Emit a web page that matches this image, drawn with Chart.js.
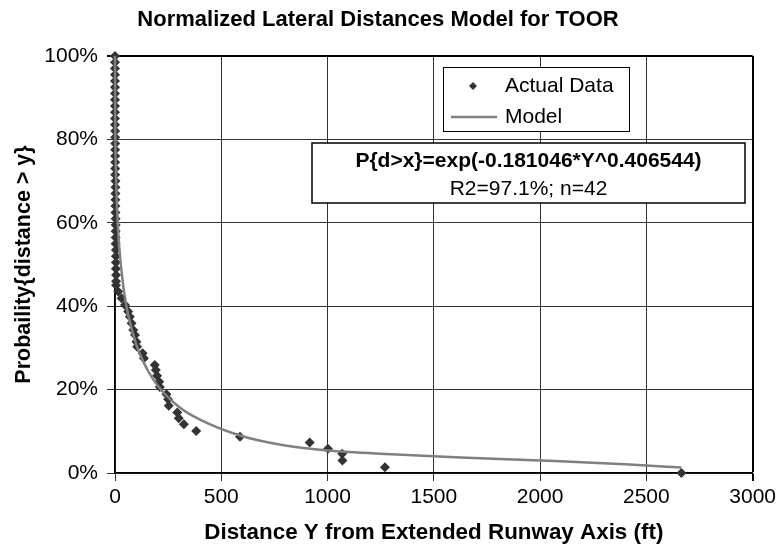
<!DOCTYPE html>
<html>
<head>
<meta charset="utf-8">
<script src="https://cdn.jsdelivr.net/npm/chart.js@4/dist/chart.umd.min.js"></script>
<style>
  body { margin: 0; background: #fff; }
  canvas { display: block; }
</style>
</head>
<body>
<canvas id="toorChart" width="780" height="546"></canvas>
<script>
// ----------------------
//  DATA
// ----------------------
const actualX = [0, 0, 0, 0, 0, 0, 0, 0, 0, 0, 0, 0, 1, 1, 1, 1, 1, 1, 1, 1,
    2, 2, 2, 2, 2, 2, 3, 3, 3, 3, 3, 4, 4, 4, 4, 5, 5, 5,
    15, 31, 47, 62, 70, 78, 86, 94, 101, 104, 130, 136, 187, 192, 198, 208, 211,
    242, 250, 253, 293, 300, 324, 382, 588, 916, 1002, 1069, 1070, 1270, 2665];
const actualY = [100, 98.5, 97, 95.5, 94, 92.5, 91, 89.5, 88, 86.5, 85, 83.5, 82, 80.5,
    79, 77.5, 76, 74.5, 73, 71.5, 70, 68.5, 67, 65.5, 64, 62.5, 61, 59.5, 58, 56.5,
    55, 53.5, 52, 50.5, 49, 47.5, 46, 45,
    43.5, 41.9, 40.3, 38.7, 37.5, 35.9, 34.3, 33.1, 31.5, 30.3, 28.7, 27.5, 25.9,
    24.7, 23.3, 21.9, 20.6, 18.9, 17.7, 16.1, 14.5, 13.1, 11.7, 10.1, 8.7, 7.3,
    5.8, 4.6, 3.0, 1.4, 0];

const modelX = [0, 1, 3, 5, 10, 20, 40, 60, 100, 150, 200, 300, 400, 600, 800,
    1000, 1300, 1600, 2000, 2400, 2665];
const modelY = [100, 83.4, 75.4, 70.6, 63.0, 54.2, 44.4, 38.4, 30.8, 25.0, 21.0,
    15.9, 12.8, 8.8, 6.6, 5.4, 4.5, 3.8, 3.0, 2.1, 1.3];

const xTicks = [0, 500, 1000, 1500, 2000, 2500, 3000];
const yTicks = [0, 20, 40, 60, 80, 100];

const titleText = 'Normalized Lateral Distances Model for TOOR';
const xTitle = 'Distance Y from Extended Runway Axis (ft)';
const yTitle = 'Probaility{distance > y}';
const legendLabels = ['Actual Data', 'Model'];
const equationLines = ['P{d>x}=exp(-0.181046*Y^0.406544)', 'R2=97.1%; n=42'];

const FONT = "'Liberation Sans', Arial, Helvetica, sans-serif";
const pointColor = '#333333';
const lineColor = '#808080';

// ----------------------
//  BOXES (legend + equation) drawn inside the plot
// ----------------------
const boxesPlugin = {
    id: 'boxes',
    afterDraw(chart) {
        const c = chart.ctx;
        c.save();
        // legend
        c.fillStyle = '#fff';
        c.fillRect(443, 67, 186, 64);
        c.strokeStyle = '#000';
        c.lineWidth = 1;
        c.strokeRect(443.5, 67.5, 186, 64);

        c.fillStyle = pointColor;
        c.beginPath();
        c.moveTo(473, 82);
        c.lineTo(477, 86);
        c.lineTo(473, 90);
        c.lineTo(469, 86);
        c.closePath();
        c.fill();

        c.strokeStyle = lineColor;
        c.lineWidth = 2.5;
        c.beginPath();
        c.moveTo(451, 117);
        c.lineTo(497, 117);
        c.stroke();

        c.fillStyle = '#000';
        c.font = '21px ' + FONT;
        c.textAlign = 'left';
        c.textBaseline = 'middle';
        c.fillText(legendLabels[0], 505, 86);
        c.fillText(legendLabels[1], 505, 117);

        // equation box
        c.fillStyle = '#fff';
        c.fillRect(312, 143, 433, 60);
        c.strokeStyle = '#000';
        c.lineWidth = 1.5;
        c.strokeRect(312, 143, 433, 60);

        c.fillStyle = '#000';
        c.textAlign = 'center';
        c.font = 'bold 21px ' + FONT;
        c.fillText(equationLines[0], 528.5, 161);
        c.font = '21px ' + FONT;
        c.fillText(equationLines[1], 528.5, 189);
        c.restore();
    }
};

// ----------------------
//  CHART
// ----------------------
const actualData = actualX.map((x, i) => ({ x: x, y: actualY[i] }));
const modelData = modelX.map((x, i) => ({ x: x, y: modelY[i] }));

const ctx = document.getElementById('toorChart').getContext('2d');
Chart.defaults.font.family = FONT;
Chart.defaults.color = '#000';

new Chart(ctx, {
    type: 'scatter',
    data: {
        datasets: [{
            label: legendLabels[1],
            type: 'line',
            data: modelData,
            borderColor: lineColor,
            borderWidth: 2.5,
            pointRadius: 0,
            fill: false,
            cubicInterpolationMode: 'monotone',
            order: 0,
            clip: false
        }, {
            label: legendLabels[0],
            data: actualData,
            pointStyle: 'rectRot',
            pointRadius: 5,
            backgroundColor: pointColor,
            borderColor: pointColor,
            borderWidth: 0,
            order: 1,
            clip: false
        }]
    },
    options: {
        responsive: false,
        animation: false,
        layout: { padding: { right: 24 } },
        plugins: {
            legend: { display: false },
            tooltip: { enabled: false },
            title: {
                display: true,
                text: titleText,
                color: '#000',
                font: { size: 22, weight: 'bold' },
                padding: { top: 7, bottom: 22.6 }
            }
        },
        scales: {
            x: {
                type: 'linear',
                min: 0,
                max: 3000,
                afterBuildTicks: (s) => { s.ticks = xTicks.map(v => ({ value: v })); },
                afterFit: (s) => { s.height = 73; },
                ticks: {
                    font: { size: 21 },
                    color: '#000',
                    padding: 4,
                    maxRotation: 0,
                    callback: (v) => String(v)
                },
                grid: {
                    color: (c) => c.tick && c.tick.value === 3000 ? '#000' : '#333',
                    lineWidth: (c) => c.tick && c.tick.value === 3000 ? 2 : 1,
                    tickLength: 8
                },
                border: { color: '#000', width: 1.5 },
                title: {
                    display: true,
                    text: xTitle,
                    color: '#000',
                    font: { size: 22.4, weight: 'bold' },
                    padding: { top: 4, bottom: 0 }
                }
            },
            y: {
                min: 0,
                max: 100,
                afterBuildTicks: (s) => { s.ticks = yTicks.map(v => ({ value: v })); },
                afterFit: (s) => { s.width = 115; },
                ticks: {
                    font: { size: 21 },
                    color: '#000',
                    padding: 9,
                    callback: (v) => v + '%'
                },
                grid: {
                    color: (c) => c.tick && c.tick.value === 100 ? '#000' : '#333',
                    lineWidth: (c) => c.tick && c.tick.value === 100 ? 2 : 1,
                    tickLength: 8
                },
                border: { color: '#000', width: 1.5 },
                title: {
                    display: true,
                    text: yTitle,
                    color: '#000',
                    font: { size: 21.5, weight: 'bold' },
                    padding: { top: 11, bottom: 0 }
                }
            }
        }
    },
    plugins: [boxesPlugin]
});
</script>
</body>
</html>
